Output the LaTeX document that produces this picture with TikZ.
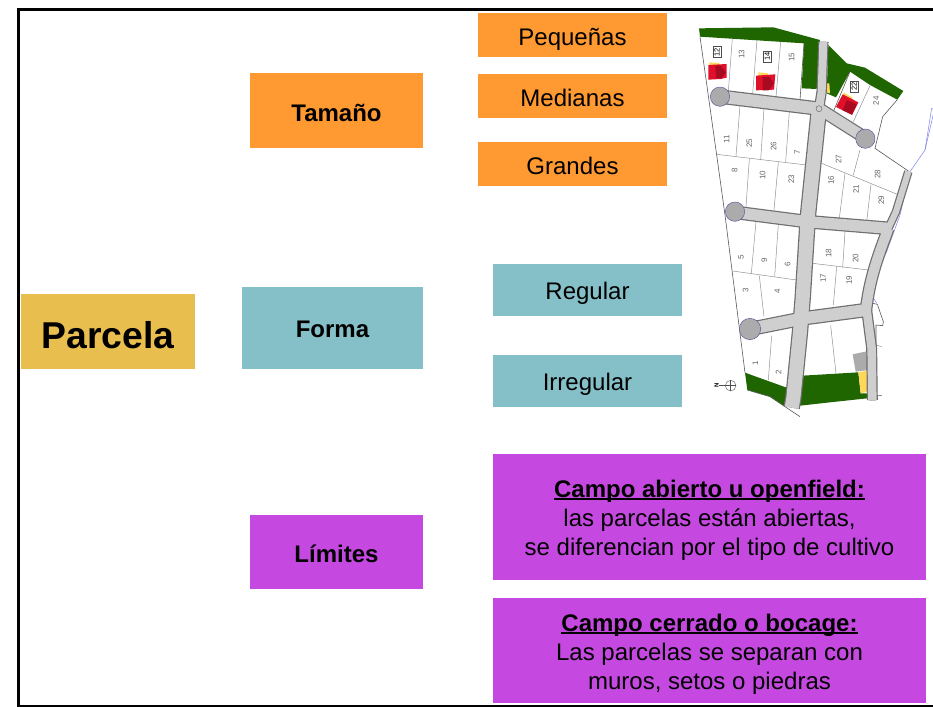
\documentclass[tikz,border=0pt]{standalone}
\usepackage{fontspec}
\setmainfont{Liberation Sans}
\definecolor{naranja}{HTML}{FF9A33}
\definecolor{turq}{HTML}{85C0C8}
\definecolor{morado}{HTML}{C549E0}
\definecolor{oro}{HTML}{E8BE4E}
\definecolor{verde}{HTML}{1F6600}
\definecolor{via}{HTML}{CFCFCF}
\definecolor{borde}{HTML}{6E6E6E}
\definecolor{rotonda}{HTML}{ABABAB}
\definecolor{rojo}{HTML}{E0102A}
\definecolor{rojoosc}{HTML}{A80A20}
\definecolor{amar}{HTML}{FFD85A}
\definecolor{azulp}{HTML}{7C7CE8}
\newcommand\baja[2]{\raisebox{-#1}[\height][\depth]{#2}}
\newcommand\subrayado[1]{\setbox0=\hbox{#1}\rlap{\rule[-1.7pt]{\wd0}{1.2pt}}\box0}
\tikzset{
  caja/.style 2 args={inner sep=0pt,minimum width=#1*0.75pt,minimum height=#2*0.75pt,align=center,text=black},
  chico/.style={font=\fontsize{18}{21.75}\selectfont},
  fuerte/.style={font=\fontsize{18}{21}\selectfont\bfseries},
  lote/.style={draw=black!45,line width=0.35pt},
  limite/.style={draw=black!65,line width=0.45pt},
  numlote/.style={font=\fontsize{6}{7}\selectfont,text=black!60,rotate=90,inner sep=0pt},
  numcaja/.style={draw=black!70,fill=white,line width=0.4pt,inner sep=1pt,rotate=90,font=\fontsize{5.6}{6}\selectfont},
  rot/.style={fill=rotonda,draw=azulp!70!black,line width=0.35pt},
  casa/.style={fill=rojo,draw=none},
  agua/.style={draw=azulp,line width=0.35pt},
  marco/.style={draw=black,line width=2.2pt}
}
\begin{document}
\begin{tikzpicture}[x=0.75pt,y=-0.75pt]
\useasboundingbox (0,0) rectangle (933,707);
\fill[white] (0,0) rectangle (933,707);
\draw[marco] (933,9.5) -- (18.5,9.5) -- (18.5,706) -- (933,706);

% ---- plan (coordinates in 3x zoom units)
\begin{scope}[shift={(690,15)},x=0.25pt,y=-0.25pt]
  % green
  \fill[verde] (27,40) -- (250,37) -- (390,75) -- (380,222) -- (335,220) -- (342,85) -- (30,65) -- cycle;
  \fill[verde] (415,90) -- (470,145) -- (525,158) -- (640,228) -- (622,254) -- (540,210) -- (480,170) -- (438,247) -- (410,235) -- cycle;
  \fill[verde] (165,1073) -- (290,1118) -- (285,1175) -- (240,1145) -- (172,1125) -- cycle;
  \fill[verde] (337,1082) -- (505,1072) -- (512,1135) -- (535,1135) -- (532,1150) -- (420,1162) -- (330,1172) -- cycle;
  \fill[amar] (505,1072) -- (530,1067) -- (535,1130) -- (512,1135) -- cycle;
  \fill[rotonda] (488,1018) -- (535,1008) -- (535,1065) -- (497,1070) -- cycle;
  \fill[amar] (408,205) -- (418,205) -- (420,235) -- (408,232) -- cycle;
  % site outline
  \draw[limite] (30,65) -- (80,420) -- (105,600) -- (165,1073);
  \draw[limite] (172,1125) -- (240,1145) -- (330,1205);
  \draw[limite] (622,254) -- (578,305) -- (555,400) -- (655,468);
  \draw[limite] (342,85) -- (330,255);
  \draw[limite] (430,290) -- (480,170);
  % plot lines
  \draw[lote] (127,70) -- (115,230);
  \draw[lote] (201,75) -- (188,235);
  \draw[lote] (272,80) -- (258,245);
  \draw[lote] (150,272) -- (138,423);
  \draw[lote] (222,280) -- (212,435);
  \draw[lote] (298,290) -- (287,440);
  \draw[lote] (80,418) -- (350,450);
  \draw[lote] (178,432) -- (168,575);
  \draw[lote] (265,442) -- (252,585);
  \draw[lote] (490,320) -- (540,212);
  \draw[lote] (395,445) -- (622,538);
  \draw[lote] (510,405) -- (490,480);
  \draw[lote] (465,475) -- (448,610);
  \draw[lote] (543,508) -- (530,620);
  \draw[lote] (198,620) -- (184,775);
  \draw[lote] (265,628) -- (254,785);
  \draw[lote] (128,768) -- (320,795);
  \draw[lote] (208,782) -- (222,905);
  \draw[lote] (465,650) -- (458,758);
  \draw[lote] (368,745) -- (535,765);
  \draw[lote] (440,755) -- (430,870);
  \draw[lote] (245,962) -- (235,1095);
  \draw[lote] (422,932) -- (438,1075);
  \draw[lote] (558,990) -- (575,995);
  \draw[lote] (558,1140) -- (575,1140);
  % stream
  \draw[agua] (725,280) -- (705,405) -- (660,470) -- (630,600) -- (590,710) -- (550,790) -- (545,840) -- (560,865);
  \draw[agua] (725,280) -- (733,285) -- (705,405);
  % side strip
  \draw[limite] (562,868) -- (580,920) -- (578,932) -- (558,930) -- (558,1155) -- (538,1155);
  \draw[limite] (535,862) -- (562,868);
  % roads: dark kerb pass, then light pavement pass
  \foreach \e/\c in {1.8/borde,0/via} {
    \draw[draw=\c,line width=(9+\e)*1pt,line join=round] (100,246) -- (387,281);
    \draw[draw=\c,line width=(8+\e)*1pt,line join=round] (387,281) -- (525,368);
    \draw[draw=\c,line width=(6+\e)*1pt,line join=round] (400,80) -- (395,230) -- (387,281);
    \draw[draw=\c,line width=(10.5+\e)*1pt,line join=round] (387,281) -- (355,590) -- (352,630) -- (338,850) -- (330,950) -- (310,1150) -- (305,1178);
    \draw[draw=\c,line width=(8.4+\e)*1pt,line join=round] (135,592) -- (352,620) -- (595,640);
    \draw[draw=\c,line width=(7.6+\e)*1pt,line join=round] (595,640) .. controls (570,710) and (540,780) .. (528,885);
    \draw[draw=\c,line width=(4.6+\e)*1pt,line join=round] (595,640) -- (618,590) -- (655,470);
    \draw[draw=\c,line width=(9+\e)*1pt,line join=round] (180,942) -- (340,910) -- (528,885);
    \draw[draw=\c,line width=(6.4+\e)*1pt,line join=round] (530,885) -- (545,1000) -- (547,1155);
  }
  \draw[black!60,line width=0.35pt] (387,281) circle (9);
  \draw[rot] (90,245) circle (29);
  \draw[rot] (526,371) circle (29);
  \draw[rot] (135,590) circle (29);
  \draw[rot] (180,942) circle (32);
  % houses
  \fill[amar] (58,142) -- (88,144) -- (88,154) -- (58,152) -- cycle;
  \fill[casa] (55,150) -- (110,147) -- (110,188) -- (92,192) -- (55,194) -- cycle;
  \fill[rojoosc] (76,152) -- (92,152) -- (108,172) -- (94,190) -- (78,190) -- cycle;
  \fill[amar] (205,172) -- (235,175) -- (235,186) -- (205,183) -- cycle;
  \fill[casa] (198,182) -- (256,178) -- (252,224) -- (198,226) -- cycle;
  \fill[rojoosc] (218,186) -- (238,186) -- (252,205) -- (236,226) -- (218,226) -- cycle;
  \fill[amar] (462,233) -- (488,248) -- (484,256) -- (458,241) -- cycle;
  \fill[casa] (458,238) -- (505,262) -- (486,300) -- (438,276) -- cycle;
  \fill[rojoosc] (470,256) -- (488,262) -- (500,268) -- (486,298) -- (458,286) -- cycle;
  % numbers in frames
  \node[numcaja] (n12) at (81,111) {12};
  \node[numcaja] (n14) at (232,124) {14};
  \node[numcaja] (n22) at (493,215) {22};
  % plot numbers
  \node[numlote] (l13) at (155,118) {13};
  \node[numlote] (l15) at (305,127) {15};
  \node[numlote] (l24) at (558,257) {24};
  \node[numlote] (l11) at (110,373) {11};
  \node[numlote] (l25) at (178,384) {25};
  \node[numlote] (l26) at (251,393) {26};
  \node[numlote] (l7) at (321,413) {7};
  \node[numlote] (l8) at (134,466) {8};
  \node[numlote] (l10) at (218,481) {10};
  \node[numlote] (l23) at (304,492) {23};
  \node[numlote] (l27) at (446,433) {27};
  \node[numlote] (l28) at (563,478) {28};
  \node[numlote] (l16) at (423,495) {16};
  \node[numlote] (l21) at (498,523) {21};
  \node[numlote] (l29) at (574,556) {29};
  \node[numlote] (l5) at (153,728) {5};
  \node[numlote] (l9) at (223,736) {9};
  \node[numlote] (l6) at (293,749) {6};
  \node[numlote] (l18) at (416,715) {18};
  \node[numlote] (l20) at (497,729) {20};
  \node[numlote] (l17) at (399,789) {17};
  \node[numlote] (l19) at (477,795) {19};
  \node[numlote] (l3) at (167,826) {3};
  \node[numlote] (l4) at (262,830) {4};
  \node[numlote] (l1) at (196,1045) {1};
  \node[numlote] (l2) at (266,1071) {2};
  \node[draw=black!60,line width=0.35pt,circle,minimum size=8pt,inner sep=0pt] (brujula) at (122,1112) {};
  \node[numlote,text=black,font=\fontsize{4.5}{5}\selectfont\bfseries] (norte) at (80,1112) {N};
  \draw[black!70,line width=0.35pt] (brujula.north) -- (brujula.south);
  \draw[black!70,line width=0.35pt] (norte) -- (brujula.east);
\end{scope}

% ---- boxes
\node[caja={174}{75},fill=oro,font=\fontsize{28}{33}\selectfont\bfseries] (parcela) at (108,331.5) {\baja{3pt}{Parcela}};
\node[caja={173}{75},fill=naranja,fuerte] (tamano) at (336.5,110.5) {\baja{2pt}{Tamaño}};
\node[caja={181}{82},fill=turq,fuerte] (forma) at (332.5,328) {\baja{1.2pt}{Forma}};
\node[caja={173}{74},fill=morado,fuerte] (limites) at (336.5,552) {\baja{1.5pt}{Límites}};
\node[caja={189}{44},fill=naranja,chico] (pequenas) at (572.5,35) {\baja{3pt}{Pequeñas}};
\node[caja={189}{44},fill=naranja,chico] (medianas) at (572.5,96) {\baja{1.2pt}{Medianas}};
\node[caja={189}{44},fill=naranja,chico] (grandes) at (572.5,164) {\baja{1.2pt}{Grandes}};
\node[caja={189}{52},fill=turq,chico] (regular) at (587.5,290) {\baja{2.3pt}{Regular}};
\node[caja={189}{52},fill=turq,chico] (irregular) at (587.5,381) {\baja{2.3pt}{Irregular}};
\node[caja={433}{126},fill=morado,chico] (abierto) at (709.5,517) {\baja{3pt}{\begin{tabular}{@{}c@{}}\textbf{\subrayado{Campo abierto u openfield:}}\\las parcelas están abiertas,\\se diferencian por el tipo de cultivo\end{tabular}}};
\node[caja={433}{105},fill=morado,chico] (cerrado) at (709.5,650.5) {\baja{3pt}{\begin{tabular}{@{}c@{}}\textbf{\subrayado{Campo cerrado o bocage:}}\\Las parcelas se separan con\\muros, setos o piedras\end{tabular}}};
\end{tikzpicture}
\end{document}
